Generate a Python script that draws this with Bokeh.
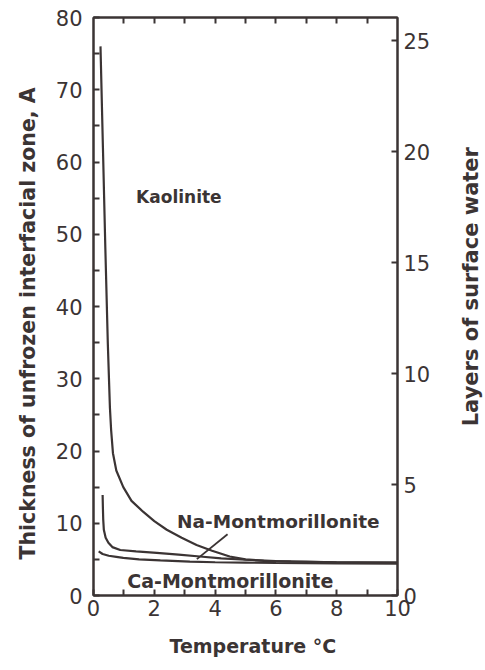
import math
from bokeh.plotting import figure
from bokeh.layouts import row
from bokeh.models import LinearAxis, Range1d, FixedTicker, Label, Title
from bokeh.embed import file_html
from bokeh.resources import INLINE

# ---- data ----
kaolinite_t = [0.23, 0.31, 0.39, 0.47, 0.54, 0.58, 0.64, 0.75, 0.98, 1.25, 1.63, 2.0,
               2.41, 2.9, 3.39, 3.9, 4.48, 5.0, 5.6, 6.5, 8.0, 10.0]
kaolinite_h = [76, 62, 48, 35, 26, 22.9, 19.7, 17.3, 15.0, 13.1, 11.6, 10.3,
               9.1, 8.0, 7.0, 6.2, 5.4, 5.0, 4.8, 4.7, 4.6, 4.6]

na_t = [0.30, 0.31, 0.32, 0.34, 0.40, 0.49, 0.62, 0.88, 1.4, 2.08, 2.8, 3.5, 4.2,
        5.0, 6.0, 8.0, 10.0]
na_h = [13.9, 12.0, 10.5, 9.1, 8.0, 7.3, 6.7, 6.3, 6.1, 5.9, 5.65, 5.4, 5.15,
        4.95, 4.75, 4.6, 4.5]

ca_t = [0.17, 0.3, 0.5, 0.75, 0.98, 1.5, 2.2, 3.17, 4.0, 5.0, 6.0, 8.0, 10.0]
ca_h = [6.1, 5.75, 5.5, 5.35, 5.2, 5.0, 4.85, 4.7, 4.6, 4.55, 4.5, 4.45, 4.4]

x_ticks = [0, 2, 4, 6, 8, 10]
x_minor = [1, 3, 5, 7, 9]
top_ticks = [1, 2, 3, 4, 5, 6, 7, 8, 9]
y_ticks = [0, 10, 20, 30, 40, 50, 60, 70, 80]
y_minor = [5, 15, 25, 35, 45, 55, 65, 75]
layer_ticks = [0, 5, 10, 15, 20, 25]
layer_max = 80 / 3.07

INK = "#3b3434"
FONT = "DejaVu Sans"

p = figure(width=455, height=670, output_backend="svg", toolbar_location=None,
           x_range=Range1d(0, 10), y_range=Range1d(0, 80),
           min_border_left=91, min_border_right=58, min_border_top=17,
           min_border_bottom=74, x_axis_location=None, y_axis_location=None)
p.grid.visible = False
p.outline_line_color = INK
p.outline_line_width = 2
p.background_fill_color = "white"
p.border_fill_color = "white"

p.extra_y_ranges = {"layers": Range1d(0, layer_max)}


def style(ax, ticks, minor=None, standoff=6):
    ax.ticker = FixedTicker(ticks=ticks, minor_ticks=minor or [])
    ax.axis_line_color = INK
    ax.axis_line_width = 2
    ax.major_tick_line_color = INK
    ax.major_tick_line_width = 2
    ax.major_tick_in = 6
    ax.major_tick_out = 0
    ax.minor_tick_line_color = INK
    ax.minor_tick_line_width = 2
    ax.minor_tick_in = 6
    ax.minor_tick_out = 0
    ax.major_label_standoff = standoff
    ax.major_label_text_font = FONT
    ax.major_label_text_color = INK
    ax.major_label_text_font_size = "21px"


left = LinearAxis()
style(left, y_ticks, y_minor, standoff=11)
p.add_layout(left, "left")

bottom = LinearAxis()
style(bottom, x_ticks, x_minor, standoff=4)
bottom.major_label_text_line_height = 1.0
p.add_layout(bottom, "below")

top = LinearAxis()
style(top, [], top_ticks, standoff=0)
p.add_layout(top, "above")

right = LinearAxis(y_range_name="layers")
style(right, layer_ticks, standoff=6)
p.add_layout(right, "right")

# ---- axis titles ----
t_left = Title(text="Thickness of unfrozen interfacial zone, A", align="left",
               offset=36, text_font=FONT, text_font_style="bold",
               text_font_size="20.5px", text_color=INK, standoff=26)
p.add_layout(t_left, "left")

t_bottom = Title(text="Temperature °C", align="left", offset=76, text_font=FONT,
                 text_font_style="bold", text_font_size="19px", text_color=INK,
                 standoff=28, text_line_height=0.9)
p.add_layout(t_bottom, "below")

# ---- curves ----
for xs, ys in [(kaolinite_t, kaolinite_h), (na_t, na_h), (ca_t, ca_h)]:
    p.line(xs, ys, line_color=INK, line_width=2.2)

# pointer for Na-Montmorillonite label
p.segment(x0=[3.40], y0=[5.03], x1=[4.41], y1=[8.48], line_color=INK, line_width=1.8)


def lab(x, y, text, size):
    p.add_layout(Label(x=x, y=y, text=text, text_font=FONT, text_font_style="bold",
                       text_font_size=size, text_color=INK,
                       text_align="left", text_baseline="middle"))

lab(1.40, 55.1, "Kaolinite", "17px")
lab(2.75, 10.3, "Na-Montmorillonite", "18.5px")
lab(1.11, 2.0, "Ca-Montmorillonite", "19px")

# ---- narrow strip on the right carrying the right-hand axis title ----
q = figure(width=30, height=670, output_backend="svg", toolbar_location=None,
           x_range=Range1d(0, 30), y_range=Range1d(0, 670), min_border=0,
           x_axis_location=None, y_axis_location=None)
q.grid.visible = False
q.outline_line_color = None
q.background_fill_color = "white"
q.border_fill_color = "white"
q.add_layout(Label(x=15, y=358, text="Layers of surface water", text_font=FONT,
                   text_font_style="bold", text_font_size="21px", text_color=INK,
                   angle=math.pi / 2, text_align="center", text_baseline="middle"))

layout = row(p, q)
open("out.html", "w").write(file_html(layout, INLINE))
